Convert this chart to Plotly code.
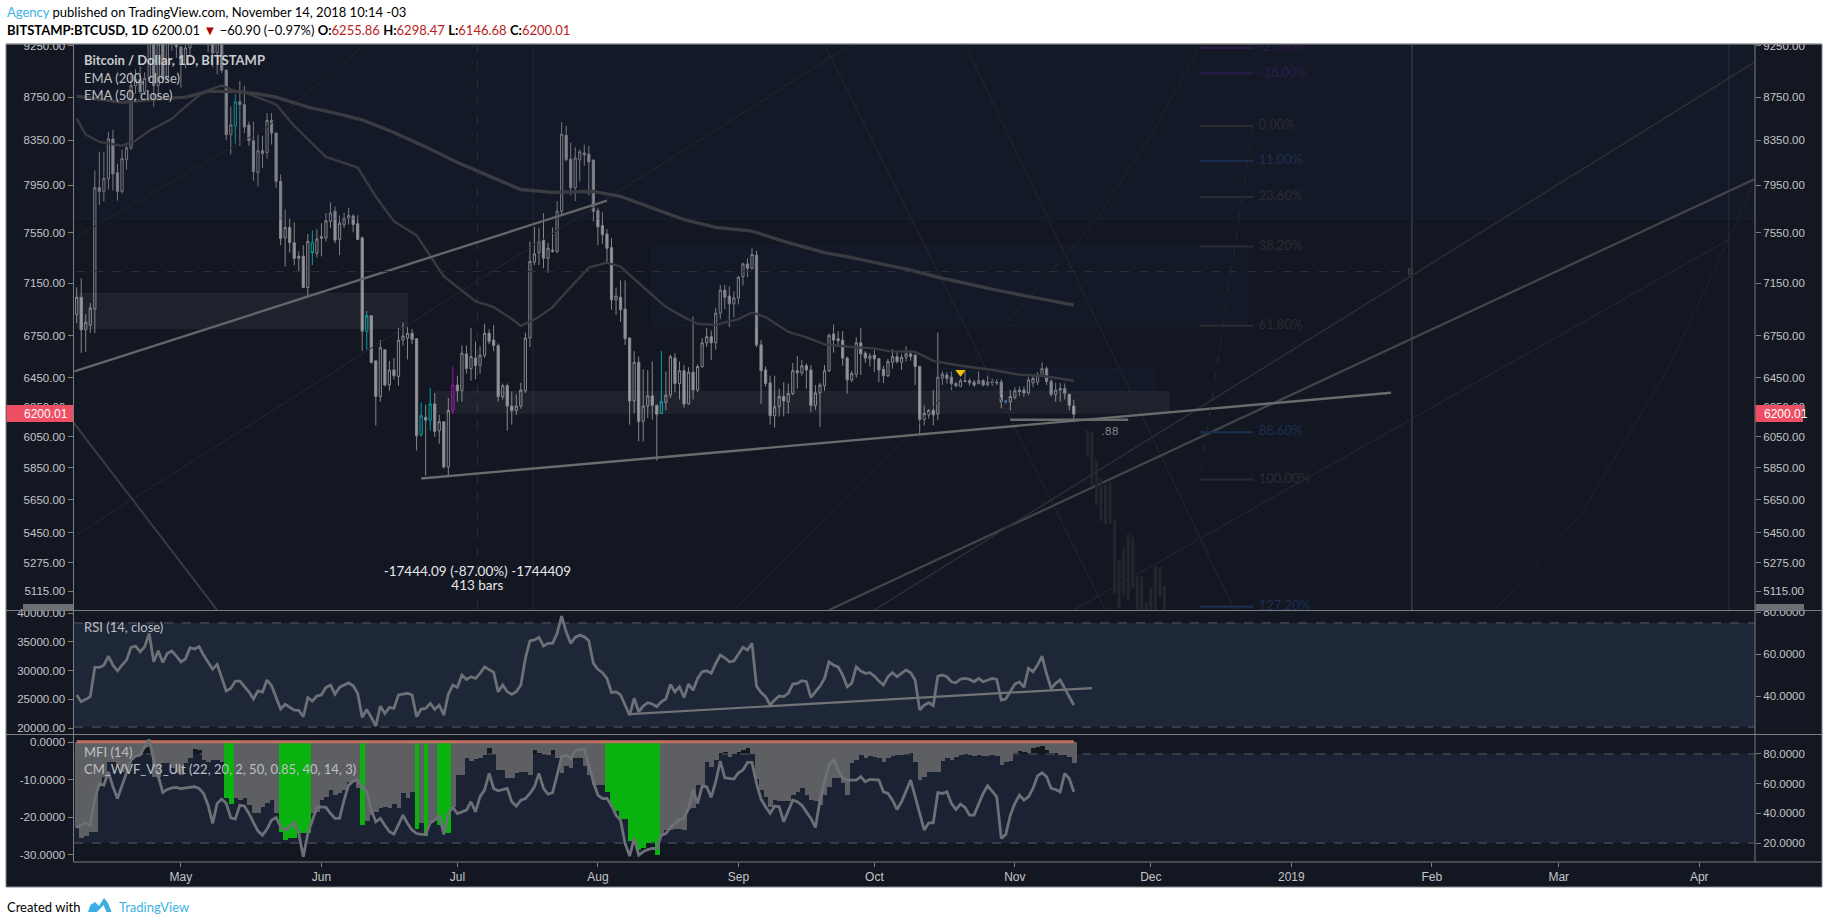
import datetime as dt
import math
import plotly.graph_objects as go

W, H = 1828, 924
BASE = dt.datetime(2018, 4, 8)

o_ = [6910,7040,6795,6830,6950,7930,7898,8008,8362,8060,
      7898,8175,8280,8860,8920,8800,8930,9640,8860,9270,
      8930,9340,9400,9240,9070,9230,9740,9700,9850,9600,
      9370,9180,9300,9010,8400,8480,8705,8680,8490,8345,
      8060,8255,8240,8530,8415,7985,7510,7595,7470,7360,
      7360,7115,7470,7385,7505,7510,7645,7730,7497,7620,
      7670,7690,7625,7510,6785,6900,6570,6320,6650,6400,
      6505,6460,6720,6735,6770,6730,6065,6180,6160,6270,
      6090,6150,5855,6225,6400,6360,6620,6515,6590,6540,
      6610,6770,6720,6680,6320,6395,6255,6225,6255,6360,
      6735,7315,7390,7490,7345,7410,7400,7730,8395,8180,
      7930,8175,8235,8225,8170,7735,7610,7540,7430,7020,
      7040,6950,6735,6290,6560,6150,6255,6325,6260,6205,
      6280,6330,6590,6410,6500,6270,6490,6365,6530,6700,
      6745,6700,6920,7095,7050,6990,7035,7200,7300,7265,
      7370,6685,6505,6415,6190,6250,6320,6285,6340,6500,
      6485,6535,6505,6260,6345,6395,6500,6765,6730,6720,
      6590,6435,6475,6700,6625,6585,6610,6585,6510,6465,
      6560,6600,6560,6595,6620,6610,6530,6165,6195,6225,
      6200,6450,6470,6455,6410,6390,6430,6430,6420,6410,
      6430,6400,6425,6420,6420,6290,6285,6315,6365,6365,
      6345,6415,6420,6465,6515,6425,6335,6375,6375,6335,
      6255.86]
h_ = [7117,7187,6912,6996,8080,8246,8246,8427,8445,8140,
      8264,8300,8995,9020,9050,8990,9730,9750,9310,9390,
      9440,9560,9460,9250,9260,9800,9780,9970,9950,9640,
      9450,9370,9380,9020,8660,8780,8905,8860,8520,8520,
      8400,8390,8600,8600,8420,8044,7745,7670,7636,7400,
      7450,7540,7570,7580,7630,7715,7805,7770,7695,7715,
      7760,7705,7695,7520,6935,6900,6575,6720,6655,6570,
      6590,6810,6850,6815,6800,6735,6280,6265,6380,6345,
      6197,6150,6310,6530,6465,6680,6680,6810,6710,6675,
      6840,6800,6830,6695,6410,6410,6355,6335,6415,6775,
      7480,7600,7590,7715,7470,7595,7815,8515,8480,8327,
      8285,8265,8310,8300,8180,7760,7720,7580,7505,7115,
      7170,7170,6740,6640,6600,6510,6505,6565,6265,6640,
      6495,6615,6625,6565,6540,6525,6895,6545,6735,6810,
      6790,6960,7135,7135,7125,7085,7205,7310,7345,7425,
      7405,6720,6530,6465,6465,6375,6420,6410,6555,6605,
      6575,6550,6540,6400,6415,6540,6770,6835,6785,6785,
      6600,6500,6740,6810,6640,6625,6650,6590,6535,6585,
      6655,6635,6620,6675,6645,6620,6535,6260,6235,6365,
      6775,6495,6490,6495,6425,6445,6495,6445,6435,6495,
      6440,6465,6445,6440,6440,6295,6365,6385,6390,6390,
      6455,6470,6490,6560,6530,6440,6415,6415,6410,6340,
      6298.47]
l_ = [6845,6627,6634,6772,6772,7780,7812,7914,7905,7820,
      7880,8087,8264,8780,8780,8770,8900,8660,8730,8880,
      8900,9200,9130,8840,9030,9150,9540,9700,9440,9190,
      9040,8970,8980,8350,8220,8318,8300,8415,8300,7990,
      7940,8100,8185,8310,7930,7450,7280,7390,7290,7235,
      7110,7050,7290,7350,7360,7480,7590,7465,7370,7590,
      7620,7555,7490,6640,6650,6550,6125,6285,6390,6360,
      6440,6395,6680,6580,6690,5960,6050,5800,6090,6050,
      6005,5845,5790,6200,6285,6285,6480,6430,6440,6480,
      6590,6690,6640,6285,6300,6090,6130,6195,6237,6345,
      6670,7290,7290,7265,7230,7390,7385,7690,8160,7865,
      7815,7985,8120,7865,7645,7450,7460,7300,6945,6905,
      6855,6685,6130,6205,6020,6020,6175,6165,5895,6205,
      6225,6310,6350,6300,6245,6265,6300,6350,6520,6670,
      6575,6650,6875,6950,6815,6890,6985,7130,7195,7255,
      6670,6270,6390,6130,6110,6185,6185,6205,6330,6375,
      6465,6375,6215,6230,6115,6360,6490,6630,6670,6535,
      6340,6420,6450,6470,6555,6530,6490,6420,6415,6455,
      6515,6550,6505,6565,6570,6400,6070,6125,6170,6125,
      6160,6400,6410,6365,6385,6385,6420,6395,6385,6405,
      6390,6390,6395,6400,6240,6270,6225,6300,6325,6320,
      6330,6385,6400,6465,6400,6320,6285,6285,6300,6225,
      6146.68]
c_ = [7040,6795,6852,6958,7930,7898,8008,8362,8050,7898,
      8184,8280,8860,8920,8800,8930,9640,8860,9270,8930,
      9340,9400,9240,9070,9230,9740,9700,9850,9600,9370,
      9180,9300,9010,8400,8490,8705,8680,8470,8345,8070,
      8255,8230,8530,8415,7985,7505,7595,7470,7345,7345,
      7115,7480,7390,7500,7520,7650,7715,7490,7630,7670,
      7695,7620,7497,6785,6900,6560,6320,6665,6400,6505,
      6465,6720,6750,6770,6725,6055,6190,6160,6270,6085,
      6150,5855,6225,6400,6360,6625,6515,6600,6535,6610,
      6770,6710,6680,6320,6395,6255,6225,6255,6365,6735,
      7320,7380,7480,7345,7425,7400,7730,8405,8175,7930,
      8190,8245,8220,8155,7730,7600,7535,7425,7020,7050,
      6945,6730,6290,6560,6150,6255,6325,6260,6200,6285,
      6330,6600,6410,6500,6270,6490,6365,6530,6700,6745,
      6700,6920,7095,7040,6990,7035,7195,7300,7265,7375,
      6685,6500,6410,6190,6250,6320,6290,6340,6500,6485,
      6535,6505,6260,6345,6400,6500,6755,6720,6715,6590,
      6435,6480,6700,6620,6590,6605,6585,6505,6465,6565,
      6600,6565,6595,6620,6600,6530,6165,6205,6225,6195,
      6455,6475,6445,6410,6395,6430,6425,6415,6400,6430,
      6400,6420,6415,6415,6285,6285,6320,6360,6355,6345,
      6435,6445,6470,6515,6425,6335,6365,6365,6340,6260,
      6200.01]

teal_bars = [35, 52, 64, 76, 78, 129]
purple_bars = [83]
blue_bars = [205]

rsi = [40.5,37.3,38.4,39.7,53.6,53.6,54.7,59.0,54.7,52.0,
       54.7,57.1,63.2,63.8,61.1,63.5,69.8,56.3,61.6,56.0,
       60.3,61.4,59.0,56.3,57.6,63.0,62.4,63.5,59.5,56.0,
       52.8,55.1,49.2,42.4,43.6,47.1,47.1,44.4,42.0,38.6,
       42.4,41.9,47.6,44.9,39.7,33.8,36.0,34.6,33.3,33.2,
       30.1,39.2,37.6,40.0,40.5,44.1,45.2,40.9,44.1,45.2,
       46.3,44.9,41.3,29.8,33.6,29.8,25.7,35.2,31.7,34.6,
       34.1,40.5,40.9,41.3,40.5,30.1,33.8,34.1,36.5,33.6,
       35.7,30.9,40.9,45.2,44.1,50.0,47.9,49.2,48.4,50.8,
       53.9,52.4,51.3,42.0,45.2,42.0,40.8,42.0,45.2,57.9,
       66.2,66.7,67.9,63.8,65.1,65.1,69.8,78.1,70.6,65.1,
       67.9,69.0,68.2,66.3,55.5,52.7,51.1,48.4,41.6,42.0,
       40.5,35.7,30.9,38.9,32.5,35.2,36.8,36.2,34.9,37.3,
       38.6,45.5,42.0,44.4,39.3,45.7,42.8,48.4,51.6,52.0,
       50.8,55.5,59.5,58.2,56.3,56.7,60.3,63.2,61.9,65.1,
       44.7,41.6,39.7,35.7,38.1,40.0,39.7,41.3,45.7,46.0,
       47.3,46.8,39.3,42.0,44.7,48.4,56.3,54.7,53.9,50.0,
       44.4,46.0,53.9,51.9,50.8,51.1,49.5,47.1,45.2,49.2,
       51.1,49.2,50.8,52.4,51.1,47.6,33.3,35.7,36.8,35.4,
       49.5,50.0,49.2,46.8,46.3,48.1,48.4,47.9,46.8,48.4,
       46.8,47.6,48.4,47.9,38.1,38.6,42.5,45.7,46.7,44.1,
       53.2,51.6,54.7,59.0,50.5,43.6,46.0,47.6,43.6,39.7,
       35.7]

mfi = [30.5,31.8,33.6,32.0,50.0,59.7,59.0,68.0,57.9,50.0,
       59.0,68.0,75.9,78.6,79.3,84.9,89.8,75.9,64.7,54.1,
       56.1,57.2,57.5,56.6,57.2,57.5,57.9,56.8,53.4,45.5,
       33.2,46.7,49.6,46.7,37.0,36.1,45.5,44.9,39.9,33.9,
       28.0,25.3,29.4,35.4,37.2,30.9,28.7,30.9,33.9,26.4,
       10.7,26.4,35.4,44.0,44.4,44.0,39.9,36.6,36.6,48.9,
       59.0,61.7,62.4,57.9,54.5,42.2,34.3,36.6,32.0,27.6,
       26.0,32.0,38.8,33.2,28.7,26.4,25.8,25.8,33.6,35.4,
       38.8,25.8,39.9,44.0,39.9,41.0,42.2,47.8,41.0,51.2,
       55.7,66.9,56.8,55.2,56.1,56.8,47.8,44.9,48.9,50.0,
       53.4,57.9,66.9,56.8,53.0,53.9,65.8,78.1,79.3,77.0,
       82.2,83.1,83.3,71.4,61.3,52.3,50.0,50.0,45.5,38.8,
       35.4,19.7,11.2,23.1,11.8,14.1,15.6,16.3,16.3,25.3,
       26.4,30.5,33.2,35.9,36.6,43.3,55.7,46.7,58.4,57.9,
       50.7,61.3,75.2,64.0,63.5,63.1,67.3,69.2,74.3,74.3,
       60.2,49.6,44.4,39.9,44.9,44.4,34.3,42.2,48.9,47.8,
       45.5,41.0,36.6,30.5,48.9,61.3,72.5,76.3,69.2,63.5,
       62.4,62.4,62.4,64.7,61.3,62.9,62.4,62.4,54.5,53.4,
       48.9,42.6,47.8,55.7,62.4,51.2,39.9,28.7,33.6,33.6,
       53.9,53.4,54.5,46.7,42.6,46.2,44.0,38.8,38.8,46.7,
       53.4,58.6,54.5,51.2,23.1,25.8,38.8,46.7,52.3,48.9,
       51.2,56.8,65.3,67.3,64.7,56.8,56.1,54.5,66.9,63.5,
       54.5]

wvf = [-22.9,-25.6,-25.1,-23.8,-24.0,-11.4,-9.2,-5.2,-5.2,-6.1,
       -7.9,-7.4,-4.8,-3.9,-3.5,-1.7,-1.2,-9.2,-9.2,-5.7,
       -5.7,-7.0,-8.3,-8.8,-5.7,-4.3,-1.9,-2.1,-4.8,-5.2,
       -4.8,-4.8,-5.2,-14.8,-16.5,-15.0,-15.4,-15.0,-16.7,-18.9,
       -18.9,-17.2,-16.3,-15.4,-18.9,-24.0,-26.0,-25.4,-25.4,-24.2,
       -24.2,-24.2,-18.9,-18.5,-15.4,-14.5,-12.7,-14.1,-13.6,-12.7,
       -10.5,-10.5,-12.3,-22.0,-20.9,-19.4,-18.5,-17.6,-17.3,-17.6,
       -16.5,-17.6,-13.6,-15.0,-13.2,-23.0,-21.6,-24.9,-21.6,-20.7,
       -22.0,-24.1,-24.1,-17.2,-8.8,-8.8,-4.3,-5.0,-4.6,-4.3,
       -3.5,-1.7,-3.2,-7.4,-7.4,-9.6,-9.6,-8.3,-7.9,-7.9,
       -8.8,-2.1,-3.0,-3.2,-3.5,-2.0,-4.3,-8.3,-6.5,-6.8,
       -4.3,-4.3,-6.5,-8.8,-11.4,-11.4,-11.4,-13.4,-17.4,-18.3,
       -20.5,-20.5,-26.2,-26.6,-28.7,-28.3,-26.9,-26.5,-30.0,-24.7,
       -23.4,-23.4,-23.2,-23.2,-23.4,-17.8,-17.6,-11.4,-11.4,-5.4,
       -6.7,-4.8,-3.0,-2.7,-4.1,-3.2,-2.6,-2.1,-1.7,-3.2,
       -9.8,-12.7,-14.5,-17.2,-15.4,-15.8,-15.8,-15.8,-14.1,-13.2,
       -12.3,-14.1,-15.4,-15.8,-16.7,-14.1,-11.9,-9.6,-9.6,-11.0,
       -14.1,-5.7,-4.8,-3.5,-4.3,-3.7,-4.1,-4.3,-5.2,-4.3,
       -3.7,-3.5,-3.5,-3.2,-3.0,-5.4,-10.1,-9.2,-8.1,-8.1,
       -7.9,-5.0,-4.3,-4.8,-3.9,-3.5,-3.3,-3.5,-3.7,-3.5,
       -3.7,-3.7,-3.5,-3.7,-6.1,-5.4,-5.0,-2.8,-2.3,-2.6,
       -2.8,-1.7,-1.4,-1.1,-2.1,-3.0,-3.0,-3.5,-3.5,-3.9,
       -5.5]
green_bars = [33, 34, 45, 46, 47, 48, 49, 50, 51, 63, 75, 77, 80, 81, 82] + list(range(117, 129))
wvf_top = [0.05] * 221

ema200_i = [0,10,17,24,29,35,40,44,51,57,63,70,77,84,89,98,105,114,120,129,134,141,149,156,165,171,183,191,204,212,220]
ema200_v = [8760,8700,8730,8750,8805,8805,8780,8750,8655,8600,8537,8420,8290,8150,8065,7914,7890,7898,7855,7730,7660,7595,7565,7480,7390,7350,7258,7187,7087,7034,6980]
ema50_i = [0,2,5,10,13,16,21,24,28,32,35,38,44,48,55,62,66,70,75,81,88,92,96,98,102,105,108,113,117,120,124,127,130,134,137,141,146,149,152,157,161,165,171,176,179,185,189,195,202,208,213,220]
ema50_v = [8550,8400,8335,8300,8345,8435,8546,8660,8800,8860,8810,8780,8680,8480,8200,8105,7853,7645,7530,7202,7010,6965,6875,6825,6890,6965,7080,7270,7310,7278,7150,7060,6965,6890,6840,6832,6875,6925,6890,6780,6740,6690,6670,6660,6640,6635,6570,6535,6507,6472,6465,6430]

ghost_i = list(range(223, 241))
ghost_hi = [6090,6078,5896,5782,5740,5757,5525,5291,5365,5442,5427,5199,5199,5053,5132,5256,5250,5145]
ghost_lo = [5922,5740,5617,5520,5500,5505,5103,5022,5093,5065,5132,5000,5000,5000,5000,5000,5080,5000]

# drawn lines: (day indices, prices, colour, width, dash)
drawings = [
    ([0, 42, 63], [7520, 8470, 9240], "#23252d", 1, "solid"),
    ([0, 171], [5440, 9270], "#26272f", 1, "solid"),
    ([-0.6, 31], [6140, 5012], "#3a3b42", 2, "solid"),
    ([165, 227], [9270, 5012], "#26272f", 1, "solid"),
    ([196, 255.5], [9270, 5008], "#26272f", 1, "solid"),
    ([145, 182, 225, 237, 248], [5012, 6005, 7661, 8390, 9260], "#22242c", 1, "solid"),
    ([166, 370.3], [5012, 8006], "#44454a", 2.2, "solid"),
    ([176, 370], [5012, 9083], "#2d2e35", 1.5, "solid"),
    ([220, 364.5], [5012, 7494], "#282931", 1, "solid"),
    ([313, 332, 351, 364.5, 370], [5012, 5567, 6510, 7494, 7975], "#22242c", 1, "solid"),
    ([-0.5, 117], [6495, 7820], "#646566", 2.4, "solid"),
    ([76, 290], [5782, 6346], "#6a6b6d", 2.4, "solid"),
    ([206, 232], [6163, 6163], "#6a6b6d", 2.4, "solid"),
    ([0, 294.6], [7240, 7240], "#2d2f36", 1, "dash"),
    ([259.6, 247.8], [8500, 5773], "#262830", 1, "dash"),
]
fib_levels = ["-27.00%", "-18.00%", "0.00%", "11.00%", "23.60%", "38.20%", "61.80%", "88.60%", "100.00%", "127.20%"]
fib_prices = [9230, 8980, 8480, 8165, 7850, 7440, 6825, 6080, 5775, 5030]
fib_colors = ["#2b1d4a", "#2b1d4a", "#2a2b30", "#1c2f52", "#2a2c33", "#2a2c33", "#2a2c33", "#1c2f52", "#2a2c33", "#1c2f52"]

zones = [
    ([-0.7, 370.3], [7665, 9270], "rgba(25,42,70,0.14)", "rgba(30,45,70,0.4)"),
    ([0, 73], [6806, 7071], "rgba(255,255,255,0.05)", "rgba(255,255,255,0.04)"),
    ([79, 241], [6207, 6355], "rgba(255,255,255,0.05)", "rgba(255,255,255,0.04)"),
    ([127, 258], [6824, 7450], "rgba(35,60,95,0.09)", "rgba(40,60,90,0.2)"),
    ([190, 238], [6340, 6515], "rgba(35,60,95,0.09)", "rgba(40,60,90,0.2)"),
]

rsi_trend_i = [122, 224]
rsi_trend_v = [31.4, 43.8]

price_ticks = [9250, 8750, 8350, 7950, 7550, 7150, 6750, 6450, 6250, 6050, 5850, 5650, 5450, 5275, 5115]
rsi_left_ticks = [40000, 35000, 30000, 25000, 20000]
rsi_right_ticks = [80, 60, 40]
wvf_ticks = [0, -10, -20, -30]
mfi_ticks = [80, 60, 40, 20]
month_dates = ["2018-05-01", "2018-06-01", "2018-07-01", "2018-08-01", "2018-09-01", "2018-10-01", "2018-11-01", "2018-12-01", "2019-01-01", "2019-02-01", "2019-03-01", "2019-04-01"]
month_labels = ["May", "Jun", "Jul", "Aug", "Sep", "Oct", "Nov", "Dec", "2019", "Feb", "Mar", "Apr"]

BG = "#131722"
TICK = "#c4c5c7"
AX = "#7c7d80"
FONT = "Liberation Sans"
TXT = "Lato"


def day(i):
    return (BASE + dt.timedelta(days=i)).isoformat()


def fx(x):
    return x / W


def fy(y):
    return 1 - y / H


dates = [day(i) for i in range(221)]
special = set(teal_bars + purple_bars + blue_bars)
fig = go.Figure()


def mask(arr, idx):
    return [arr[i] if i in idx else None for i in range(221)]


for xs, ys, fill, edge in zones:
    fig.add_trace(go.Scatter(x=[day(xs[0]), day(xs[1]), day(xs[1]), day(xs[0]), day(xs[0])],
                             y=[ys[0], ys[0], ys[1], ys[1], ys[0]], mode="lines", fill="toself",
                             fillcolor=fill, line=dict(color=edge, width=1)))

for xs, ys, col, wid, dash in drawings[:10]:
    fig.add_trace(go.Scatter(x=[day(v) for v in xs], y=ys, mode="lines", line=dict(color=col, width=wid, dash=dash)))

gx, gy = [], []
for i, a, b in zip(ghost_i, ghost_lo, ghost_hi):
    gx += [day(i), day(i), None]
    gy += [a, b, None]
fig.add_trace(go.Scatter(x=gx, y=gy, mode="lines", line=dict(color="#24262e", width=3)))

for p, col in zip(fib_prices, fib_colors):
    fig.add_trace(go.Scatter(x=[day(247.8), day(259.6)], y=[p, p], mode="lines", line=dict(color=col, width=2)))
fig.add_trace(go.Scatter(x=[day(260.8)] * 10, y=fib_prices, mode="text", text=fib_levels, textposition="middle right",
                         textfont=dict(family=TXT, size=13, color=fib_colors)))

fig.add_trace(go.Scatter(x=[day(i) for i in ema200_i], y=ema200_v, mode="lines", line=dict(color="#3a3c41", width=3.4)))
fig.add_trace(go.Scatter(x=[day(i) for i in ema50_i], y=ema50_v, mode="lines", line=dict(color="#383a40", width=2.4)))

for xs, ys, col, wid, dash in drawings[10:]:
    fig.add_trace(go.Scatter(x=[day(v) for v in xs], y=ys, mode="lines", line=dict(color=col, width=wid, dash=dash)))
fig.add_trace(go.Scatter(x=[day(294.2)], y=[7240], mode="markers",
                         marker=dict(symbol="triangle-right-open", size=6, color="#3e4046", line=dict(width=1, color="#3e4046"))))

plain = set(range(221)) - special
fig.add_trace(go.Candlestick(x=dates, open=mask(o_, plain), high=mask(h_, plain), low=mask(l_, plain), close=mask(c_, plain),
                             whiskerwidth=0,
                             increasing=dict(line=dict(color="#86868a", width=1), fillcolor="#161a23"),
                             decreasing=dict(line=dict(color="#86868a", width=1), fillcolor="#98989b")))
for idx, col in ((teal_bars, "#00a3a6"), (purple_bars, "#a012a8"), (blue_bars, "#3f6ea8")):
    s = set(idx)
    fig.add_trace(go.Candlestick(x=dates, open=mask(o_, s), high=mask(h_, s), low=mask(l_, s), close=mask(c_, s),
                                 whiskerwidth=0,
                                 increasing=dict(line=dict(color=col, width=1), fillcolor="#161a23"),
                                 decreasing=dict(line=dict(color=col, width=1), fillcolor="#161a23")))

fig.add_trace(go.Scatter(x=[day(195)], y=[6490], mode="markers",
                         marker=dict(symbol="triangle-down", size=9, color="#f2c200")))
fig.add_trace(go.Scatter(x=[day(88.4), day(88.4)], y=[5217, 5143], mode="text",
                         text=["-17444.09 (-87.00%) -1744409", "413 bars"], textposition="middle center",
                         textfont=dict(family=TXT, size=13.5, color="#e6e7e9")))
fig.add_trace(go.Scatter(x=[day(228)], y=[6080], mode="text", text=[".88"], textposition="middle center",
                         textfont=dict(family="DejaVu Sans", size=11, color="#7f8085")))

# right price axis twin
fig.add_trace(go.Scatter(x=dates, y=c_, yaxis="y2", mode="lines", opacity=0, line=dict(width=0)))

# RSI pane
fig.add_trace(go.Scatter(x=dates[:5], y=rsi_left_ticks, yaxis="y3", mode="lines", opacity=0, line=dict(width=0)))
fig.add_trace(go.Scatter(x=dates, y=rsi, yaxis="y4", mode="lines", line=dict(color="#6d7076", width=2.8)))
fig.add_trace(go.Scatter(x=[day(i) for i in rsi_trend_i], y=rsi_trend_v, yaxis="y4", mode="lines",
                         line=dict(color="#727376", width=2.2)))

# WVF / MFI pane
gset = set(green_bars)
fig.add_trace(go.Bar(x=dates, y=wvf, yaxis="y5", width=86400000,
                     marker=dict(color=["#09b20f" if i in gset else "#5d5f63" for i in range(221)], line=dict(width=0))))
fig.add_trace(go.Scatter(x=dates, y=wvf_top, yaxis="y5", mode="lines", line=dict(color="#c2705f", width=3)))
fig.add_trace(go.Scatter(x=dates, y=mfi, yaxis="y6", mode="lines", line=dict(color="#6d7076", width=2.8)))

shapes = [
    dict(type="rect", xref="paper", yref="paper", x0=fx(6), x1=fx(1822), y0=fy(887), y1=fy(44), fillcolor=BG,
         line=dict(color="#808183", width=1), layer="below"),
    dict(type="rect", xref="paper", yref="y4", x0=fx(74), x1=fx(1755), y0=25.2, y1=74.8, fillcolor="#1d2737",
         line=dict(width=0), layer="below"),
    dict(type="rect", xref="paper", yref="y6", x0=fx(74), x1=fx(1755), y0=20, y1=80, fillcolor="#1b2233",
         line=dict(width=0), layer="below"),
]
for ref, val in (("y4", 25.2), ("y4", 74.8), ("y6", 20), ("y6", 80)):
    shapes.append(dict(type="line", xref="paper", yref=ref, x0=fx(74), x1=fx(1755), y0=val, y1=val,
                       line=dict(color="#585b62", width=1, dash="dash"), layer="below"))
# vertical drawing lines
for i, col, dash in ((88.4, "#2c2f37", "dash"), (100.7, "#23262e", "solid"), (294.6, "#4b4e55", "solid"), (364.5, "#2a2d35", "solid")):
    shapes.append(dict(type="line", xref="x", yref="y domain", x0=day(i), x1=day(i), y0=0, y1=1,
                       line=dict(color=col, width=1, dash=dash), layer="below"))
# pane frames
for y in (610.5, 734.5):
    shapes.append(dict(type="line", xref="paper", yref="paper", x0=fx(6), x1=fx(1822), y0=fy(y), y1=fy(y),
                       line=dict(color=AX, width=1), layer="above"))
shapes.append(dict(type="line", xref="paper", yref="paper", x0=fx(73.5), x1=fx(1822), y0=fy(862), y1=fy(862),
                   line=dict(color=AX, width=1), layer="above"))
for x in (73.5, 1755):
    shapes.append(dict(type="line", xref="paper", yref="paper", x0=fx(x), x1=fx(x), y0=fy(862), y1=fy(44),
                       line=dict(color=AX, width=1), layer="above"))
# price tags and top mask
for x0, x1 in ((6.5, 73), (1755.5, 1803)):
    shapes.append(dict(type="rect", xref="paper", yref="paper", x0=fx(x0), x1=fx(x1), y0=fy(422), y1=fy(405),
                       fillcolor="#ee4f63", line=dict(width=0), layer="above"))
for x0, x1 in ((23, 73), (1755.5, 1804)):
    shapes.append(dict(type="rect", xref="paper", yref="paper", x0=fx(x0), x1=fx(x1), y0=fy(610), y1=fy(604),
                       fillcolor="#6e6f72", line=dict(width=0), layer="above"))
shapes.append(dict(type="rect", xref="paper", yref="paper", x0=0, x1=1, y0=fy(43.5), y1=1, fillcolor="#ffffff",
                   line=dict(width=0), layer="above"))
shapes.append(dict(type="line", xref="paper", yref="paper", x0=fx(6), x1=fx(1822), y0=fy(44), y1=fy(44),
                   line=dict(color="#808183", width=1), layer="above"))
# logo
logo = "M %f %f L %f %f L %f %f L %f %f L %f %f L %f %f L %f %f L %f %f L %f %f L %f %f Z" % tuple(
    v for p in ((88, 912), (90.5, 905), (95, 902), (99, 906), (104, 898), (108, 903), (111.5, 912), (106.5, 912), (103.5, 905), (97, 912))
    for v in (fx(p[0]), fy(p[1])))
shapes.append(dict(type="path", xref="paper", yref="paper", path=logo, fillcolor="#39afe6", line=dict(width=0), layer="above"))


def ann(x, y, text, size=13, color="#000000", family=TXT, anchor="left"):
    return dict(xref="paper", yref="paper", x=fx(x), y=fy(y), text=text, showarrow=False, xanchor=anchor, yanchor="middle",
                align=anchor, font=dict(family=family, size=size, color=color))


RED = "#b71c1c"
annotations = [
    ann(5, 12.5, '<span style="color:#3bb3e4">Agency</span> published on TradingView.com, November 14, 2018 10:14 -03', 13),
    ann(5, 30, '<b>BITSTAMP:BTCUSD, 1D</b> 6200.01 <span style="color:#b00000">▼</span> −60.90 (−0.97%) <b>O:</b>'
               f'<span style="color:{RED}">6255.86</span> <b>H:</b><span style="color:{RED}">6298.47</span> '
               f'<b>L:</b><span style="color:{RED}">6146.68</span> <b>C:</b><span style="color:{RED}">6200.01</span>', 13),
    ann(82, 60, "<b>Bitcoin / Dollar, 1D, BITSTAMP</b>", 13, "#c9cacc"),
    ann(82, 78, "EMA (200, close)", 13, "#bfc0c3"),
    ann(82, 95, "EMA (50, close)", 13, "#bfc0c3"),
    ann(82, 627, "RSI (14, close)", 13, "#bfc0c3"),
    ann(82, 752, "MFI (14)", 13, "#bfc0c3"),
    ann(82, 769, "CM_WVF_V3_Ult (22, 20, 2, 50, 0.85, 40, 14, 3)", 13, "#bfc0c3"),
    ann(22, 413.5, "6200.01", 12, "#ffffff", FONT),
    ann(1762, 413.5, "6200.01", 12, "#ffffff", FONT),
    ann(5, 907, "Created with", 13),
    ann(117, 907, "TradingView", 13, "#3bb3e4"),
]


def yax(dom, ticks, labels, side, rng, log=False, overlay=None):
    d = dict(domain=dom, range=rng, tickvals=ticks, ticktext=labels, side=side, anchor="x", showgrid=False, zeroline=False,
             showline=False, automargin=False, ticks="outside", ticklen=5, tickcolor=AX,
             tickfont=dict(family=FONT, size=11.5, color=TICK))
    if log:
        d["type"] = "log"
    if overlay:
        d["overlaying"] = overlay
    return d


main_dom = [fy(610), fy(44)]
rsi_dom = [fy(734), fy(611)]
mfi_dom = [fy(862), fy(735)]
main_rng = [math.log10(5012), math.log10(9270)]
price_labels = [f"{v:.2f}" for v in price_ticks]

fig.update_layout(
    width=W, height=H, autosize=False, margin=dict(l=0, r=0, t=0, b=0, pad=0), paper_bgcolor="#ffffff", plot_bgcolor="rgba(0,0,0,0)",
    showlegend=False, hovermode=False, bargap=0, barmode="overlay", shapes=shapes, annotations=annotations,
    xaxis=dict(type="date", domain=[fx(73.5), fx(1755)], range=[day(-0.7), day(370.3)], anchor="y5", showgrid=False, zeroline=False,
               automargin=False, tickvals=month_dates, ticktext=month_labels, ticks="outside", ticklen=4, tickcolor=AX, showline=False,
               rangeslider=dict(visible=False), tickfont=dict(family=FONT, size=12, color=TICK)),
    yaxis=yax(main_dom, price_ticks, price_labels, "left", main_rng, log=True),
    yaxis2=yax(main_dom, price_ticks, price_labels, "right", main_rng, log=True, overlay="y"),
    yaxis3=yax(rsi_dom, rsi_left_ticks, [f"{v:.2f}" for v in rsi_left_ticks], "left", [18960, 40350]),
    yaxis4=yax(rsi_dom, rsi_right_ticks, [f"{v:.4f}" for v in rsi_right_ticks], "right", [21.9, 80.5], overlay="y3"),
    yaxis5=yax(mfi_dom, wvf_ticks, [f"{v:.4f}" for v in wvf_ticks], "left", [-31.9, 1.86]),
    yaxis6=yax(mfi_dom, mfi_ticks, [f"{v:.4f}" for v in mfi_ticks], "right", [7.2, 92.8], overlay="y5"),
)
fig.write_html("out.html", config=dict(displayModeBar=False),
               post_script="document.body.style.margin='0';document.body.style.overflow='hidden';")
